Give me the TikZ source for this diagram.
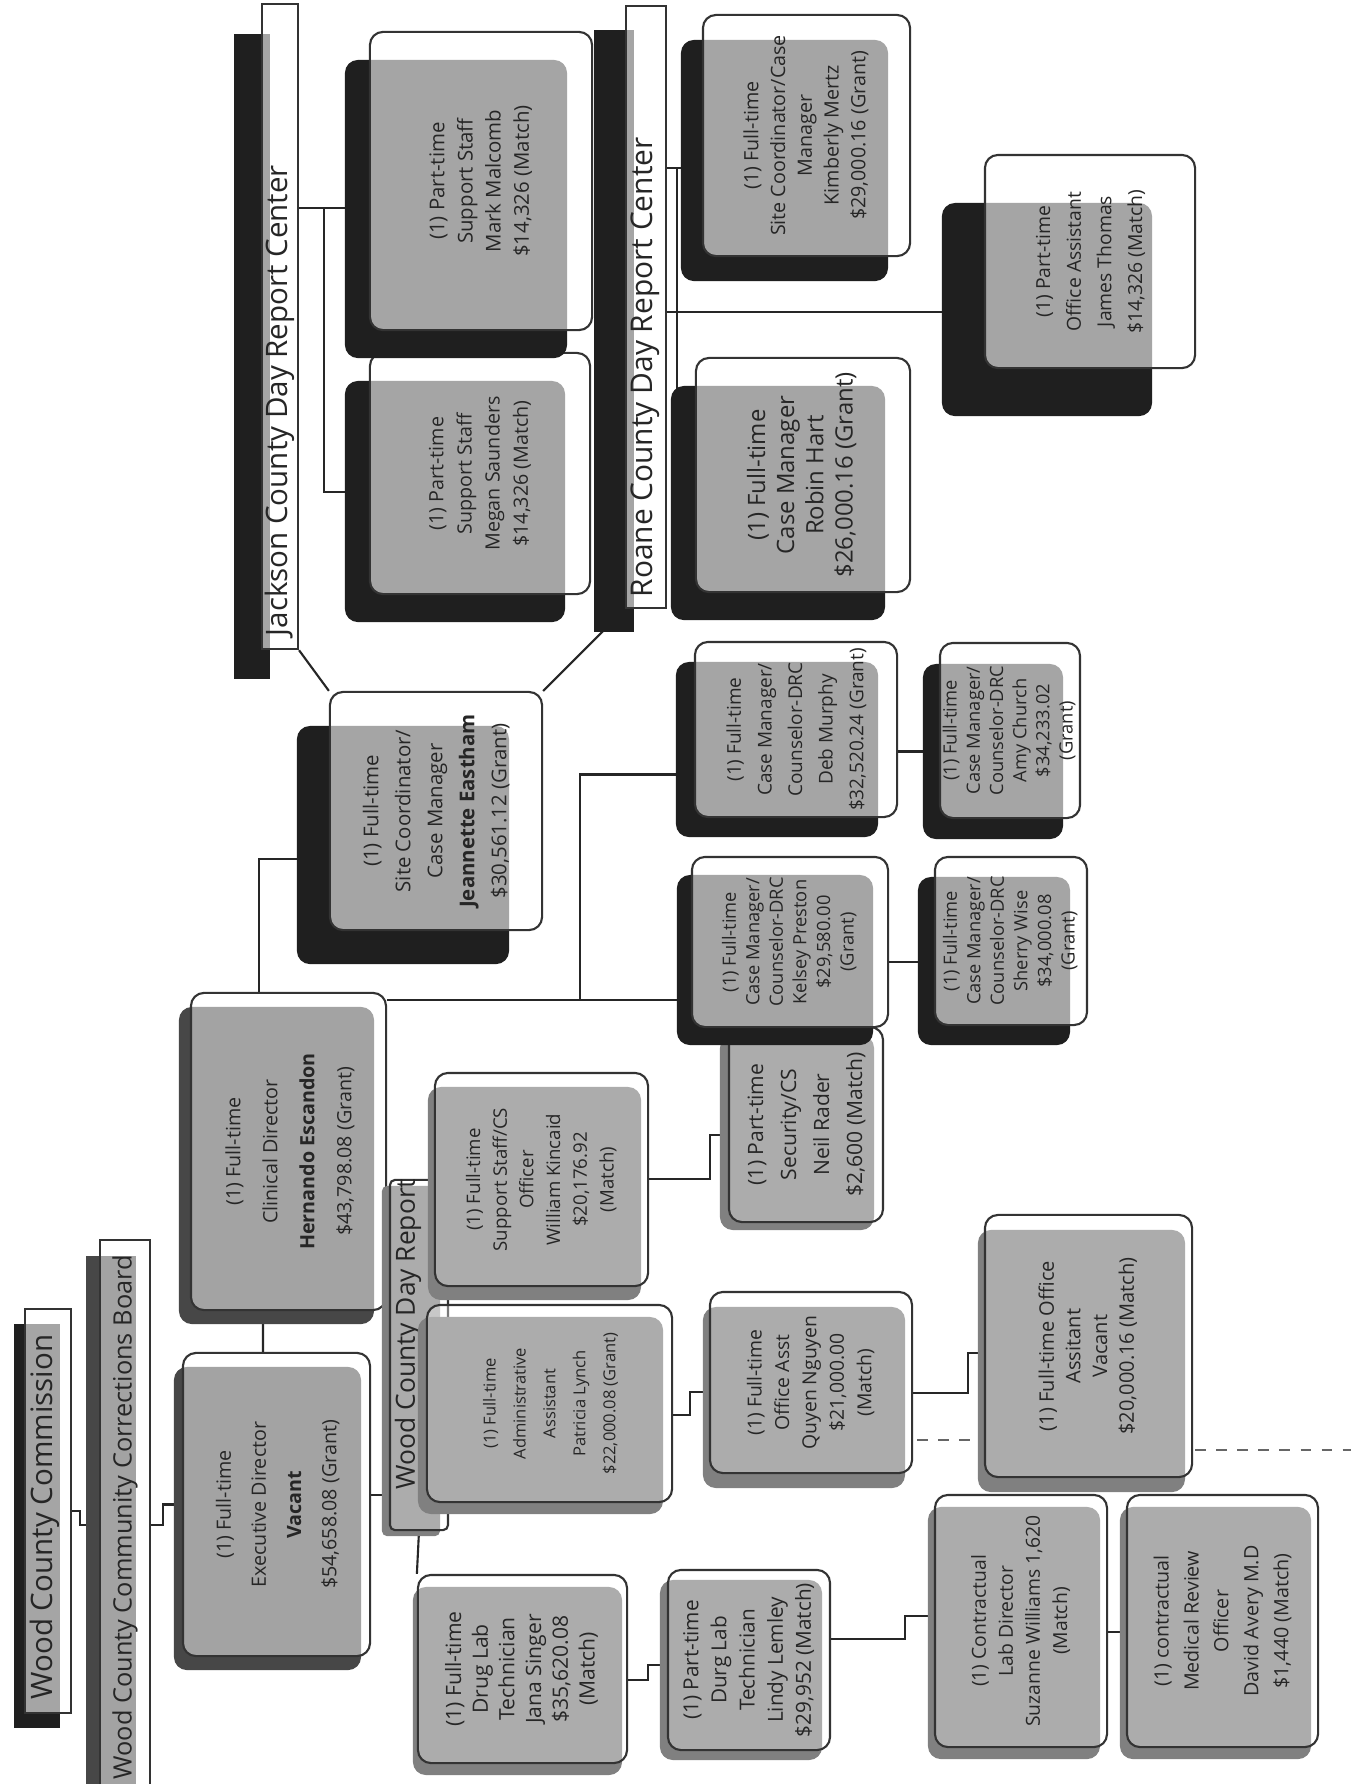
\documentclass[tikz,border=0pt]{standalone}
\usepackage{fontspec}
\setmainfont{Open Sans}
\usetikzlibrary{shadows, backgrounds, calc}

\newcommand{\cardtext}[3]{\rotatebox{90}{\fontsize{#1}{#2}\selectfont
  \begin{tabular}{@{}c@{}}#3\end{tabular}}}

\tikzset{
  card/.style={draw=black!80, line width=0.6pt, rounded corners=1.3mm,
    fill=white, inner sep=0pt, text=black!85, text opacity=1},
  heavycard/.style 2 args={card, fill opacity=0.6,
    drop shadow={shadow xshift=#1, shadow yshift=#2, fill=black!88, opacity=1}},
  midcard/.style 2 args={card, fill opacity=0.5,
    drop shadow={shadow xshift=#1, shadow yshift=#2, fill=black!72, opacity=1}},
  lightcard/.style 2 args={card, fill opacity=0.35,
    drop shadow={shadow xshift=#1, shadow yshift=#2, fill=black!50, opacity=1}},
  barlabel/.style={rotate=90, anchor=west, inner sep=0pt, text=black!85,
    font=\fontsize{#1}{#1}\selectfont},
  link/.style={draw=black!85, line width=0.6pt},
}

\begin{document}
\begin{tikzpicture}[x=0.01cm, y=-0.01cm]
  \useasboundingbox (0,0) rectangle (1351,1784);
  \begin{scope}[on background layer]
    \fill[white] (0,0) rectangle (1351,1784);
  \end{scope}

  % top of the chart
  \node[heavycard={-1.1mm}{-1.5mm}, sharp corners, minimum width=0.46cm, minimum height=4.04cm] (commission) at (48,1511) {};
  \node[barlabel=8.4pt] (commissionlabel) at (45,1700) {Wood County Commission};
  \node[midcard={-1.4mm}{-1.6mm}, sharp corners, minimum width=0.50cm, minimum height=5.70cm] (board) at (125,1525) {};
  \node[barlabel=7.2pt] (boardlabel) at (125,1780) {Wood County Community Corrections Board};

  \node[midcard={-0.9mm}{-1.4mm}, minimum width=1.87cm, minimum height=3.03cm] (exec) at (276.5,1504.5)
    {\cardtext{5.6pt}{10pt}{(1) Full-time\\Executive Director\\\textbf{Vacant}\\\$54,658.08 (Grant)}};
  \node[midcard={-1.2mm}{-1.4mm}, minimum width=1.95cm, minimum height=3.17cm] (clinical) at (288.5,1151.5)
    {\cardtext{5.6pt}{10.5pt}{(1) Full-time\\Clinical Director\\\textbf{Hernando Escandon}\\\$43,798.08 (Grant)}};

  % Wood County Day Report
  \node[lightcard={-0.8mm}{-0.6mm}, rounded corners=0.5mm, minimum width=0.58cm, minimum height=3.50cm] (dayreport) at (419,1355) {};
  \node[barlabel=7.5pt] (dayreportlabel) at (408,1490) {Wood County Day Report};
  \node[lightcard={-0.7mm}{-1.4mm}, minimum width=2.13cm, minimum height=2.13cm] (william) at (541.5,1179.5)
    {\cardtext{5.3pt}{7.6pt}{(1) Full-time\\Support Staff/CS\\Officer\\William Kincaid\\\$20,176.92\\(Match)}};
  \node[lightcard={-0.9mm}{-1.2mm}, minimum width=2.45cm, minimum height=1.97cm] (patricia) at (549.5,1403.5)
    {\cardtext{4.7pt}{8.5pt}{(1) Full-time\\Administrative\\Assistant\\Patricia Lynch\\\$22,000.08 (Grant)}};
  \node[lightcard={-0.9mm}{-0.8mm}, minimum width=1.54cm, minimum height=1.95cm] (neil) at (806,1124.5)
    {\cardtext{6pt}{9.4pt}{(1) Part-time\\Security/CS\\Neil Rader\\\$2,600 (Match)}};
  \node[heavycard={-1.5mm}{-1.8mm}, minimum width=1.96cm, minimum height=1.70cm] (kelsey) at (790,942)
    {\cardtext{5.2pt}{6.7pt}{(1) Full-time\\Case Manager/\\Counselor-DRC\\Kelsey Preston\\\$29,580.00\\(Grant)}};
  \node[heavycard={-1.7mm}{-2mm}, minimum width=1.52cm, minimum height=1.68cm] (sherry) at (1011,941)
    {\cardtext{5.2pt}{6.7pt}{(1) Full-time\\Case Manager/\\Counselor-DRC\\Sherry Wise\\\$34,000.08\\(Grant)}};
  \node[heavycard={-1.9mm}{-2mm}, minimum width=2.02cm, minimum height=1.75cm] (deb) at (796,729.5)
    {\cardtext{5.4pt}{8.7pt}{(1) Full-time\\Case Manager/\\Counselor-DRC\\Deb Murphy\\\$32,520.24 (Grant)}};
  \node[heavycard={-1.7mm}{-2.1mm}, minimum width=1.40cm, minimum height=1.75cm] (amy) at (1010,730.5)
    {\cardtext{5.2pt}{6.6pt}{(1) Full-time\\Case Manager/\\Counselor-DRC\\Amy Church\\\$34,233.02\\(Grant)}};
  \node[lightcard={-0.7mm}{-1.5mm}, minimum width=2.02cm, minimum height=1.81cm] (quyen) at (811,1382.5)
    {\cardtext{5.5pt}{7.8pt}{(1) Full-time\\Office Asst\\Quyen Nguyen\\\$21,000.00\\(Match)}};
  \node[lightcard={-0.7mm}{-1.5mm}, minimum width=2.07cm, minimum height=2.62cm] (officevacant) at (1088.5,1346)
    {\cardtext{5.7pt}{7.6pt}{(1) Full-time Office\\Assitant\\Vacant\\\$20,000.16 (Match)}};
  \node[lightcard={-0.5mm}{-1.2mm}, minimum width=2.09cm, minimum height=1.88cm] (jana) at (522.5,1669)
    {\cardtext{6pt}{7.6pt}{(1) Full-time\\Drug Lab\\Technician\\Jana Singer\\\$35,620.08\\(Match)}};
  \node[lightcard={-0.8mm}{-1mm}, minimum width=1.62cm, minimum height=1.80cm] (lindy) at (749,1660)
    {\cardtext{5.9pt}{8pt}{(1) Part-time\\Durg Lab\\Technician\\Lindy Lemley\\\$29,952 (Match)}};
  \node[lightcard={-0.7mm}{-1.2mm}, minimum width=1.72cm, minimum height=2.52cm] (suzanne) at (1021,1621)
    {\cardtext{5.5pt}{7.7pt}{(1) Contractual\\Lab Director\\Suzanne Williams 1,620\\(Match)}};
  \node[lightcard={-0.7mm}{-1.2mm}, minimum width=1.91cm, minimum height=2.52cm] (david) at (1222.5,1621)
    {\cardtext{5.6pt}{8.5pt}{(1) contractual\\Medical Review\\Officer\\David Avery M.D\\\$1,440 (Match)}};

  % site coordinator and the two county centers
  \node[heavycard={-3.3mm}{-3.4mm}, minimum width=2.12cm, minimum height=2.38cm] (jeannette) at (436,811)
    {\cardtext{5.8pt}{9.1pt}{(1) Full-time\\Site Coordinator/\\Case Manager\\\textbf{Jeannette Eastham}\\\$30,561.12 (Grant)}};
  \node[heavycard={-2.8mm}{-3mm}, sharp corners, minimum width=0.36cm, minimum height=6.45cm] (jackson) at (280,326.5) {};
  \node[barlabel=8.4pt] (jacksonlabel) at (280,637) {Jackson County Day Report Center};
  \node[heavycard={-2.5mm}{-2.8mm}, minimum width=2.20cm, minimum height=2.41cm] (megan) at (480,473.5)
    {\cardtext{5.6pt}{8pt}{(1) Part-time\\Support Staff\\Megan Saunders\\\$14,326 (Match)}};
  \node[heavycard={-2.5mm}{-2.8mm}, minimum width=2.22cm, minimum height=2.98cm] (mark) at (481,181)
    {\cardtext{5.8pt}{8pt}{(1) Part-time\\Support Staff\\Mark Malcomb\\\$14,326 (Match)}};
  \node[heavycard={-3.2mm}{-2.4mm}, sharp corners, minimum width=0.40cm, minimum height=6.02cm] (roane) at (646,307) {};
  \node[barlabel=8.5pt] (roanelabel) at (645,598) {Roane County Day Report Center};
  \node[heavycard={-2.5mm}{-2.8mm}, minimum width=2.14cm, minimum height=2.34cm] (robin) at (803,475)
    {\cardtext{6.8pt}{8.3pt}{(1) Full-time\\Case Manager\\Robin Hart\\\$26,000.16 (Grant)}};
  \node[heavycard={-2.2mm}{-2.5mm}, minimum width=2.07cm, minimum height=2.41cm] (kimberly) at (806.5,135.5)
    {\cardtext{5.6pt}{7.6pt}{(1) Full-time\\Site Coordinator/Case\\Manager\\Kimberly Mertz\\\$29,000.16 (Grant)}};
  \node[heavycard={-4.3mm}{-4.8mm}, minimum width=2.10cm, minimum height=2.13cm] (james) at (1090,261.5)
    {\cardtext{5.5pt}{8.7pt}{(1) Part-time\\Office Assistant\\James Thomas\\\$14,326 (Match)}};

  % junctions
  \coordinate (cj) at (580,1000);
  \coordinate (jk) at (324,208);
  \coordinate (jm) at (324,492);
  \coordinate (rk) at (677,168);
  \coordinate (rr) at (677,501);
  \coordinate (rj) at (677,312);
  \coordinate (wn) at (710,1179);
  \coordinate (wn2) at (710,1135);
  \coordinate (pq) at (690,1415);
  \coordinate (pq2) at (690,1392);
  \coordinate (qo) at (968,1393);
  \coordinate (qo2) at (968,1353);
  \coordinate (jl) at (648,1680);
  \coordinate (jl2) at (648,1665);
  \coordinate (ls) at (905,1639);
  \coordinate (ls2) at (905,1616);
  \coordinate (sd) at (1117,1632);
  \coordinate (ed) at (370,1495);
  \coordinate (ks) at ($(kelsey.east)+(0,20)$);
  \coordinate (da) at ($(deb.east)+(0,22)$);
  \coordinate (dj) at ($(deb.west)+(0,45)$);
  \coordinate (jw) at ($(jeannette.west)+(0,48)$);

  \begin{scope}[on background layer]
    \draw[link] (commission.east) -- ++(8,0) |- (board.west);
    \draw[link] (board.east) -- ++(12,0) |- (exec.west);
    \draw[link] ([xshift=-1.35mm]exec.north) -- ([xshift=-2.55mm]clinical.south);
    \draw[link] ([xshift=-2.95mm]clinical.north) |- (jw);
    \draw[link] (clinical.east |- cj) -- (kelsey.west |- cj);
    \draw[link] (cj) |- (dj);
    \draw[link] (da) -- (da -| amy.west);
    \draw[link] (ks) -- (ks -| sherry.west);
    \draw[link] (jeannette.north west) -- (jackson.south east);
    \draw[link] (jeannette.north east) -- (roane.south west);
    \draw[link] (jackson.east |- jk) -- (mark.west |- jk);
    \draw[link] (jk) -- (jm) -- (megan.west |- jm);
    \draw[link] (roane.east |- rk) -- (kimberly.west |- rk);
    \draw[link] (rk) -- (rr) -- (robin.west |- rr);
    \draw[link] (roane.east |- rj) -- (james.west |- rj);
    \draw[link] (william.east |- wn) -- (wn) -- (wn2) -- (neil.west |- wn2);
    \draw[link] (ed) -- (ed -| dayreport.west);
    \draw[link] (dayreport.south) -- (jana.north west);
    \draw[link] (patricia.east |- pq) -- (pq) -- (pq2) -- (quyen.west |- pq2);
    \draw[link] (quyen.east |- qo) -- (qo) -- (qo2) -- (officevacant.west |- qo2);
    \draw[link] (jana.east |- jl) -- (jl) -- (jl2) -- (lindy.west |- jl2);
    \draw[link] (lindy.east |- ls) -- (ls) -- (ls2) -- (suzanne.west |- ls2);
    \draw[link] (suzanne.east |- sd) -- (david.west |- sd);
    % dashed marks of the scan
    \draw[black!60, dashed] (917,1440) -- (980,1440);
    \draw[black!60, dashed] (1195,1450) -- (1351,1450);
  \end{scope}
\end{tikzpicture}
\end{document}
